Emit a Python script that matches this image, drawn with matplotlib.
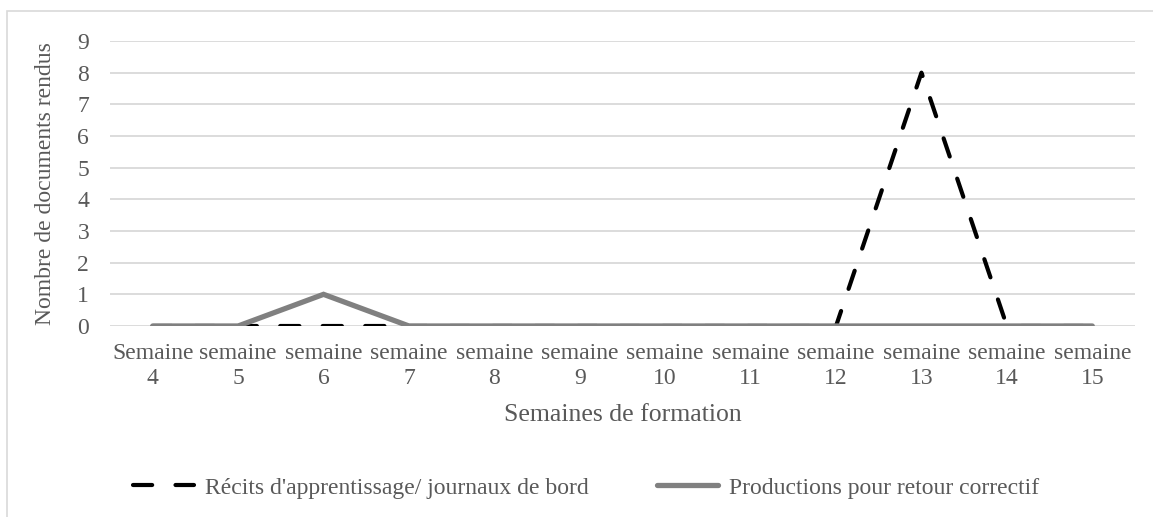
import matplotlib
matplotlib.use("Agg")
import matplotlib.pyplot as plt
from matplotlib.lines import Line2D
from matplotlib.patches import Rectangle

plt.rcParams['font.family'] = ['Liberation Serif', 'DejaVu Serif']

weeks = ['Semaine\n4', 'semaine\n5', 'semaine\n6', 'semaine\n7', 'semaine\n8', 'semaine\n9',
         'semaine\n10', 'semaine\n11', 'semaine\n12', 'semaine\n13', 'semaine\n14', 'semaine\n15']
recits = [0, 0, 0, 0, 0, 0, 0, 0, 0, 8, 0, 0]
productions = [0, 0, 1, 0, 0, 0, 0, 0, 0, 0, 0, 0]
yticks = list(range(10))

text_col = '#595959'
grid_col = '#d9d9d9'
fs = 17

fig = plt.figure(figsize=(11.53, 5.17), dpi=100)
W, H = 1153, 517

# chart frame (cropped on right / bottom)
fig.patches.append(Rectangle((7 / W, -0.1), 1.2, 1 - 11 / H + 0.1, transform=fig.transFigure,
                             fill=False, edgecolor=grid_col, linewidth=1.2))

ax = fig.add_axes([110 / W, 1 - 326 / H, (1135 - 110) / W, (326 - 41) / H])
x = list(range(len(weeks)))

dash = (0, (4.6, 5.6))
ax.plot(x, recits, color='black', linewidth=3, linestyle=dash,
        dash_capstyle='round', zorder=3)
ax.plot(x, productions, color='#808080', linewidth=3.8, solid_capstyle='round',
        solid_joinstyle='miter', zorder=4)

ax.set_xlim(-0.5, len(weeks) - 0.5)
ax.set_ylim(0, 9)
ax.set_yticks(yticks)
ax.set_xticks(x)
ax.set_xticklabels(weeks, linespacing=1.25)
ax.tick_params(axis='both', length=0, labelsize=fs, colors=text_col)
ax.tick_params(axis='y', pad=15)
ax.tick_params(axis='x', pad=12)
ax.grid(axis='y', color=grid_col, linewidth=1.3)
ax.set_axisbelow(True)
for s in ax.spines.values():
    s.set_visible(False)

ax.set_ylabel('Nombre de documents rendus', fontsize=fs, color=text_col, labelpad=15)
ax.set_xlabel('Semaines de formation', fontsize=18.5, color=text_col, labelpad=11)

handles = [
    Line2D([], [], color='black', linewidth=3, linestyle=dash, dash_capstyle='round'),
    Line2D([], [], color='#808080', linewidth=3.8, solid_capstyle='round'),
]
labels = ["Récits d'apprentissage/ journaux de bord", 'Productions pour retour correctif']
leg = fig.legend(handles, labels, loc='center', bbox_to_anchor=(586 / W, 1 - 488 / H), ncol=2,
                 frameon=False, fontsize=fs, handlelength=2.6, handletextpad=0.45,
                 columnspacing=2.9, labelcolor=text_col)

fig.savefig('out.png', dpi=100)
